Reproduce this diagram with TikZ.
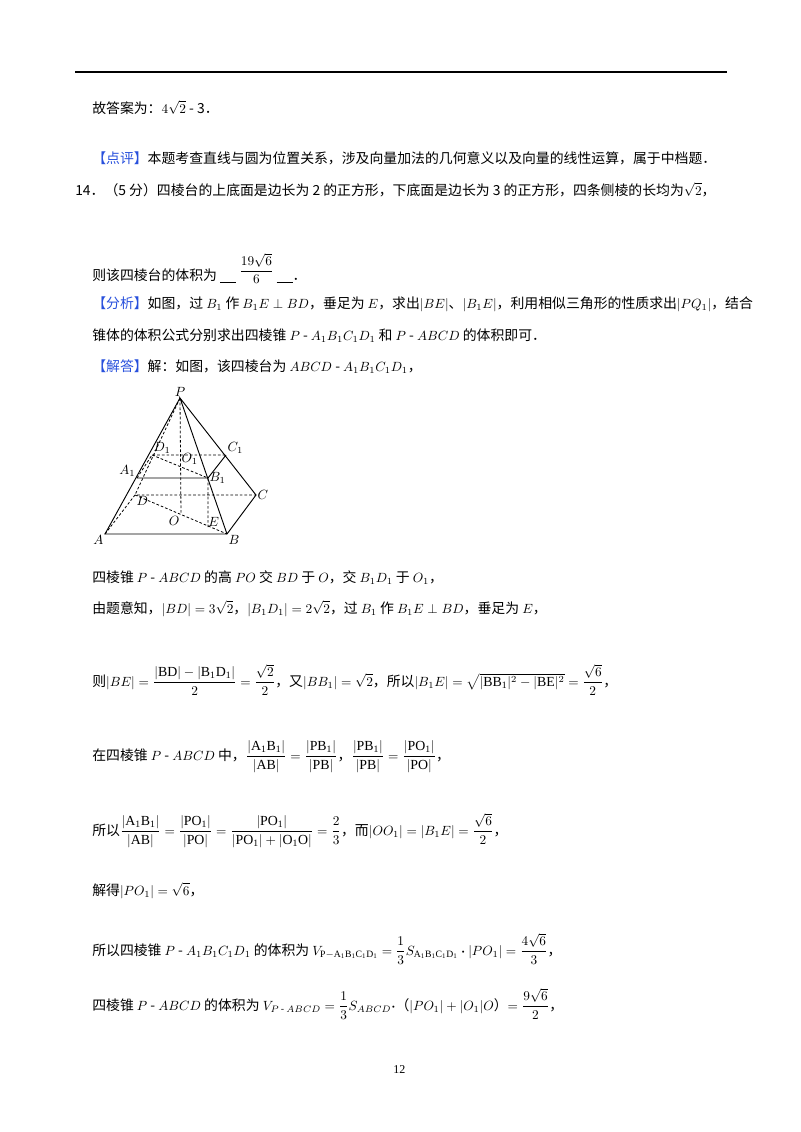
\documentclass[tikz,border=0pt]{standalone}
\usepackage{amsmath}
\usepackage{fontspec}
\usetikzlibrary{calc}
\setmainfont{Liberation Serif}
\newfontfamily\cjk{Noto Sans CJK SC}
\definecolor{hl}{RGB}{40,80,220}
\begin{document}
\begin{tikzpicture}[x=0.75pt,y=-0.75pt,
  txt/.style={anchor=base west,inner sep=0pt,font=\cjk\fontsize{10.4}{13}\selectfont},
  edge/.style={line width=0.7pt},
  hid/.style={line width=0.6pt,dashed,dash pattern=on 2pt off 1.5pt},
  lab/.style={inner sep=1pt,font=\itshape\fontsize{10}{12}\selectfont}]
\useasboundingbox (0,0) rectangle (800,1132);
\draw[line width=1.2pt] (75,72) -- (727,72);
\newcommand{\hb}[1]{{\color{hl}【#1】}}
\newcommand{\blank}{\rule[-2pt]{12pt}{0.8pt}}
\node[txt] (l1) at (92,113) {故答案为：$4\sqrt{2}$ - 3．};
\node[txt] (l2) at (92,163) {\hb{点评}本题考查直线与圆为位置关系，涉及向量加法的几何意义以及向量的线性运算，属于中档题．};
\node[txt] (l3) at (75,195) {14．（5 分）四棱台的上底面是边长为 2 的正方形，下底面是边长为 3 的正方形，四条侧棱的长均为$\sqrt{2}$，};
\node[txt] (l4) at (92,280) {则该四棱台的体积为 \blank\ \raisebox{4pt}{$\dfrac{19\sqrt{6}}{6}$}\ \blank．};
\node[txt] (l5) at (92,308) {\hb{分析}如图，过 $B_1$ 作 $B_1E\perp BD$，垂足为 $E$，求出$|BE|$、$|B_1E|$，利用相似三角形的性质求出$|PQ_1|$，结合};
\node[txt] (l6) at (92,340) {锥体的体积公式分别求出四棱锥 $P$ - $A_1B_1C_1D_1$ 和 $P$ - $ABCD$ 的体积即可．};
\node[txt] (l7) at (92,371) {\hb{解答}解：如图，该四棱台为 $ABCD$ - $A_1B_1C_1D_1$，};
\node[txt] (l8) at (92,582) {四棱锥 $P$ - $ABCD$ 的高 $PO$ 交 $BD$ 于 $O$，交 $B_1D_1$ 于 $O_1$，};
\node[txt] (l9) at (92,613) {由题意知，$|BD|=3\sqrt{2}$，$|B_1D_1|=2\sqrt{2}$，过 $B_1$ 作 $B_1E\perp BD$，垂足为 $E$，};
\node[txt] (l10) at (92,686) {则$|BE|=\dfrac{|\mathrm{BD}|-|\mathrm{B_1D_1}|}{2}=\dfrac{\sqrt{2}}{2}$，又$|BB_1|=\sqrt{2}$，所以$|B_1E|=\sqrt{|\mathrm{BB_1}|^2-|\mathrm{BE}|^2}=\dfrac{\sqrt{6}}{2}$，};
\node[txt] (l11) at (92,760) {在四棱锥 $P$ - $ABCD$ 中，$\dfrac{|\mathrm{A_1B_1}|}{|\mathrm{AB}|}=\dfrac{|\mathrm{PB_1}|}{|\mathrm{PB}|}$，$\dfrac{|\mathrm{PB_1}|}{|\mathrm{PB}|}=\dfrac{|\mathrm{PO_1}|}{|\mathrm{PO}|}$，};
\node[txt] (l12) at (92,835) {所以$\dfrac{|\mathrm{A_1B_1}|}{|\mathrm{AB}|}=\dfrac{|\mathrm{PO_1}|}{|\mathrm{PO}|}=\dfrac{|\mathrm{PO_1}|}{|\mathrm{PO_1}|+|\mathrm{O_1O}|}=\dfrac{2}{3}$，而$|OO_1|=|B_1E|=\dfrac{\sqrt{6}}{2}$，};
\node[txt] (l13) at (92,895) {解得$|PO_1|=\sqrt{6}$，};
\node[txt] (l14) at (92,955) {所以四棱锥 $P$ - $A_1B_1C_1D_1$ 的体积为 $V_{\mathrm{P-A_1B_1C_1D_1}}=\dfrac{1}{3}S_{\mathrm{A_1B_1C_1D_1}}\boldsymbol{\cdot}|PO_1|=\dfrac{4\sqrt{6}}{3}$，};
\node[txt] (l15) at (92,1010) {四棱锥 $P$ - $ABCD$ 的体积为 $V_{P\text{ - }ABCD}=\dfrac{1}{3}S_{ABCD}\boldsymbol{\cdot}$（$|PO_1|+|O_1|O$）$=\dfrac{9\sqrt{6}}{2}$，};
\node[txt,font=\fontsize{9}{11}\selectfont] (pg) at (393,1073) {12};
% figure
\coordinate (P) at (180,398);
\coordinate (A) at (105,534);
\coordinate (B) at (227,534);
\coordinate (C) at (256,495);
\coordinate (D) at (135,495);
\coordinate (A1) at (137,478);
\coordinate (B1) at (208,478);
\coordinate (C1) at (226,455);
\coordinate (D1) at (152,455);
\coordinate (O) at ($(D)!0.5!(B)$);
\coordinate (O1) at ($(D1)!0.5!(B1)$);
\coordinate (E) at (208,527);
\draw[edge] (P) -- (A) -- (B) -- (C) -- (P) -- (B);
\draw[edge] (A1) -- (B1) -- (C1);
\draw[hid] (P) -- (D) (A) -- (D) -- (C) (D) -- (B) (A1) -- (D1) -- (C1) (D1) -- (B1) (P) -- (O) (B1) -- (E);
\node[lab,above] (lP) at (P) {$P$};
\node[lab,below left] (lA) at (A) {$A$};
\node[lab,below right] (lB) at (B) {$B$};
\node[lab,right] (lC) at (C) {$C$};
\node[lab,below right] (lD) at (D) {$D$};
\node[lab,above left] (lA1) at (A1) {$A_1$};
\node[lab,right] (lB1) at (B1) {$B_1$};
\node[lab,above right] (lC1) at (C1) {$C_1$};
\node[lab,above right] (lD1) at (D1) {$D_1$};
\node[lab,below left] (lO) at (O) {$O$};
\node[lab,above right] (lO1) at (O1) {$O_1$};
\node[lab,above right,inner sep=0pt] (lE) at (E) {$E$};
\end{tikzpicture}
\end{document}
